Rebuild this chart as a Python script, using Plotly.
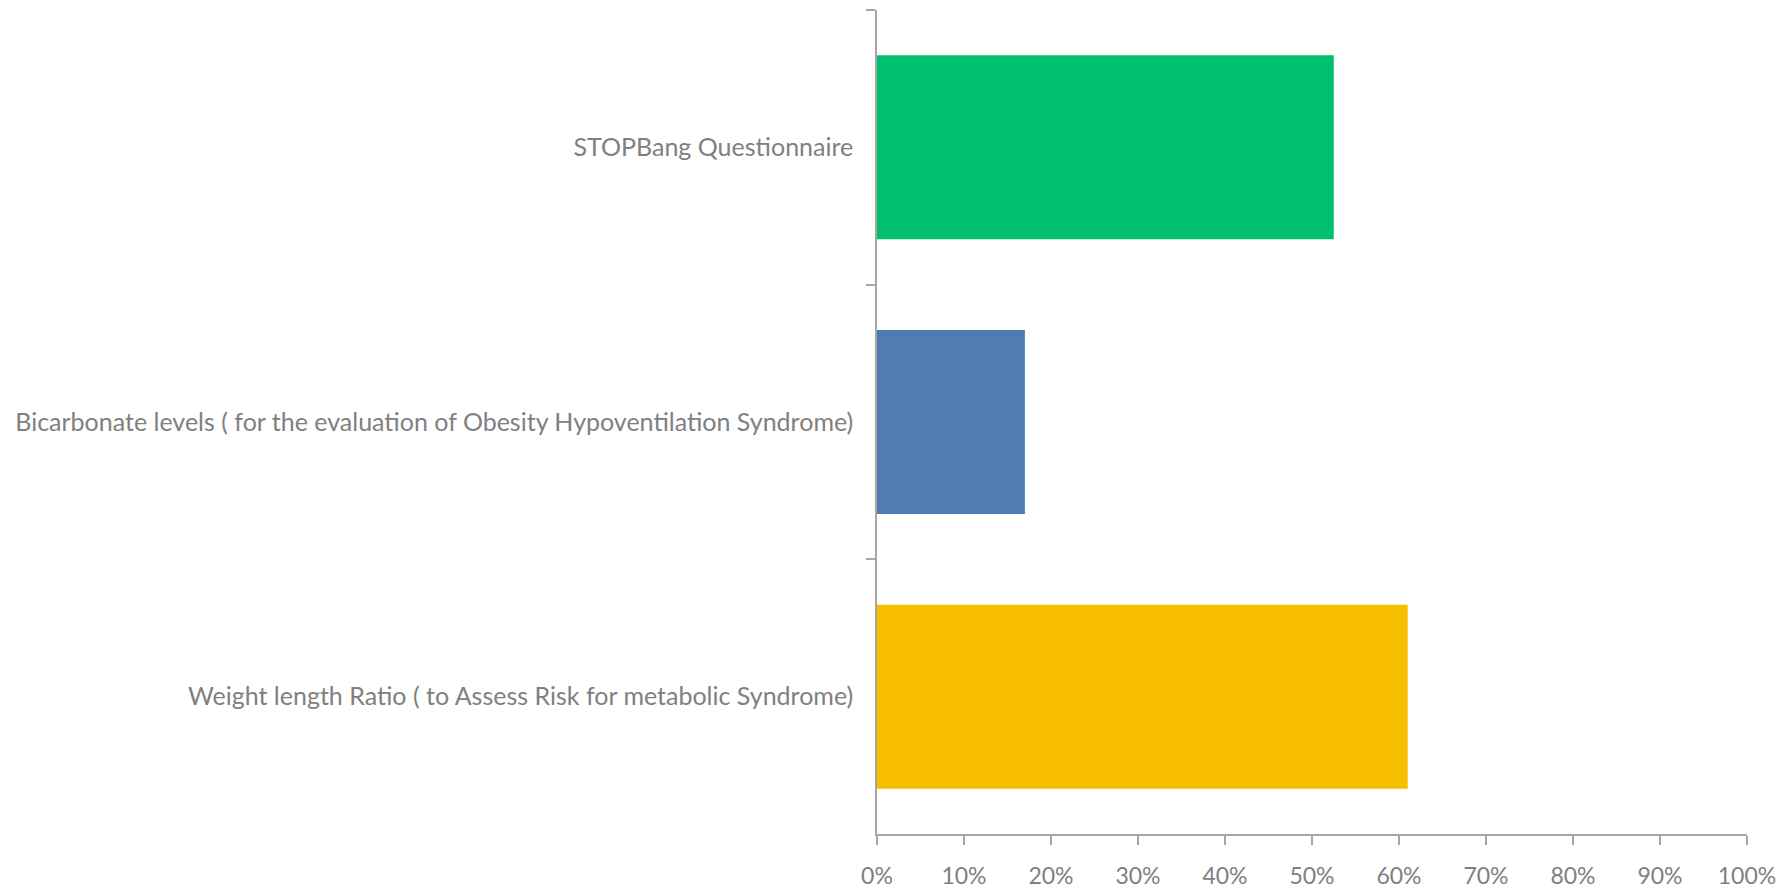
import plotly.graph_objects as go

categories = [
    "STOPBang Questionnaire",
    "Bicarbonate levels ( for the evaluation of Obesity Hypoventilation Syndrome)",
    "Weight length Ratio ( to Assess Risk for metabolic Syndrome)",
]
values = [0.525, 0.17, 0.61]
colors = ["#00BF6F", "#4F7CB3", "#F8BF00"]
x_ticks = [i / 10 for i in range(11)]

FONT = "Lato, Calibri, Carlito, sans-serif"
GREY = "#808080"
AXIS = "#A6A6A6"

fig = go.Figure(
    go.Bar(
        y=categories,
        x=values,
        orientation="h",
        marker=dict(color=colors, line=dict(width=0)),
        width=0.67,
        hoverinfo="x+y",
    )
)

fig.update_layout(
    width=1783,
    height=891,
    margin=dict(l=877, r=36, t=10, b=57, autoexpand=False),
    paper_bgcolor="white",
    plot_bgcolor="white",
    showlegend=False,
    font=dict(family=FONT, size=24, color=GREY),
)

fig.update_xaxes(
    range=[0, 1],
    tickvals=x_ticks,
    tickformat=".0%",
    showgrid=False,
    zeroline=False,
    showline=True,
    linecolor=AXIS,
    linewidth=1.5,
    ticks="outside",
    ticklen=9,
    tickwidth=1.5,
    tickcolor=AXIS,
    ticklabelstandoff=12,
    automargin=False,
    tickfont=dict(family=FONT, size=23, color=GREY),
)

fig.update_yaxes(
    autorange="reversed",
    tickson="boundaries",
    showgrid=False,
    zeroline=False,
    showline=True,
    linecolor=AXIS,
    linewidth=1.5,
    ticks="outside",
    ticklen=9,
    tickwidth=1.5,
    tickcolor=AXIS,
    ticklabelstandoff=17,
    automargin=False,
    tickfont=dict(family=FONT, size=25, color=GREY),
)

fig.write_html("out.html")
